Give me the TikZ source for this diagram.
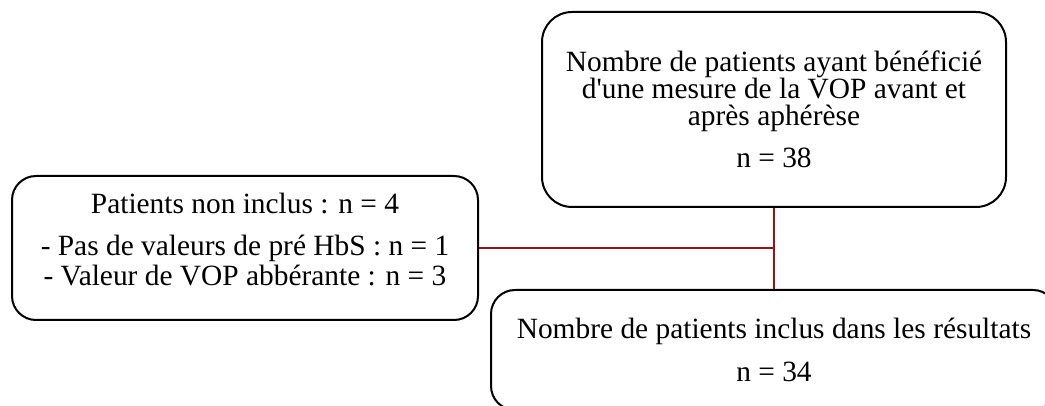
\documentclass[tikz,border=0pt]{standalone}
\usepackage{fontspec}
\setmainfont{Liberation Serif}[Ligatures=TeXOff]
\definecolor{link red}{RGB}{160,16,16}
\tikzset{
  flow box/.style={
    rounded corners=12pt,
    draw,
    line width=1pt,
    align=center,
    inner sep=0pt,
    font=\fontsize{14.7}{13.5}\selectfont,
  },
  link line/.style={
    draw=link red,
    line width=1pt,
  },
}

\begin{document}
\begin{tikzpicture}[x=0.5pt, y=-0.5pt]
      \clip (0,0) rectangle (1045,406);

      \node[flow box, rounded corners=15pt, minimum width=232pt, minimum height=97.5pt] (total) at (774,109.5)
        {Nombre de patients ayant bénéficié\\ d'une mesure de la VOP avant et\\ après aphérèse\\[7.5pt] n = 38};
      \node[flow box, minimum width=233pt, minimum height=72pt] (excl) at (245,248)
        {Patients non inclus : n = 4\\[7.5pt] - Pas de valeurs de pré HbS : n = 1\\[1.5pt] - Valeur de VOP abbérante : n = 3\\[-4.5pt]\mbox{}};
      \node[flow box, minimum width=283pt, minimum height=60pt] (incl) at (774,350)
        {Nombre de patients inclus dans les résultats\\[8pt] n = 34};

      \coordinate (join) at (total.south |- excl.east);

      \draw[link line] (total) -- (incl);
      \draw[link line] (excl) -- (join);
\end{tikzpicture}
\end{document}
